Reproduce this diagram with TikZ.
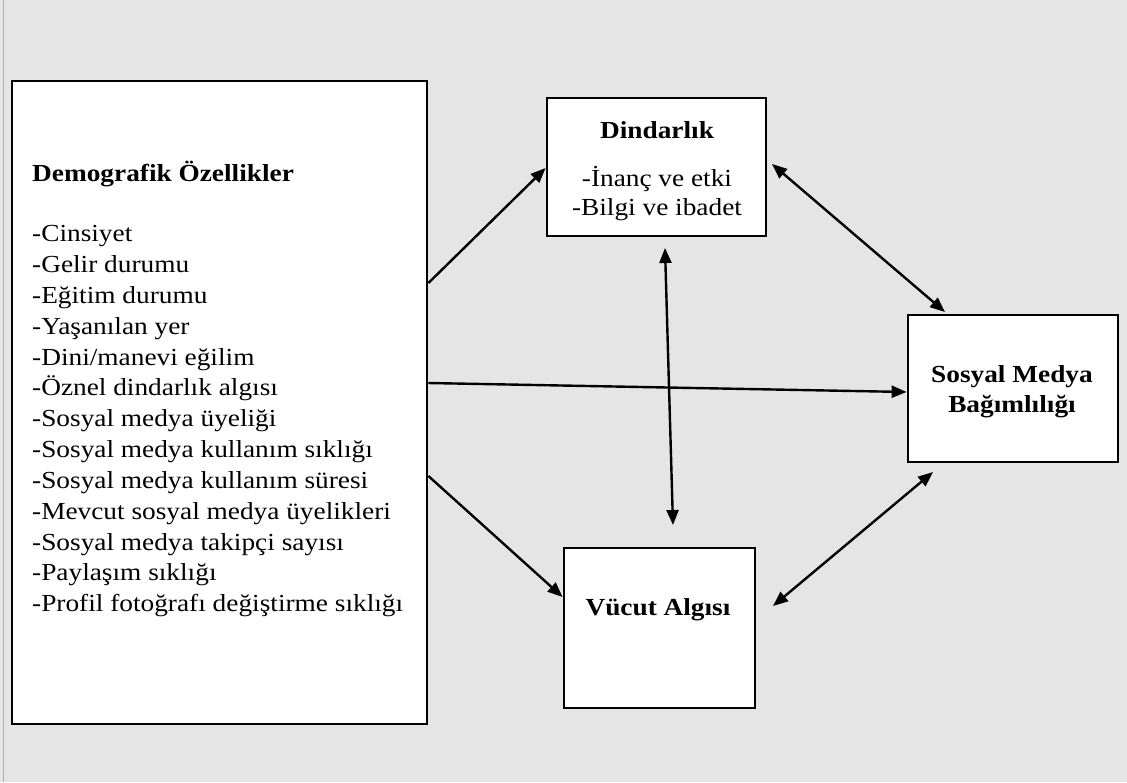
\documentclass[tikz,border=0pt]{standalone}
\usepackage{fontspec}
\setmainfont[FakeStretch=1.115]{Liberation Serif}
\usetikzlibrary{arrows.meta,calc}
\definecolor{bg}{HTML}{E5E5E5}
\definecolor{edge}{HTML}{AFAFAF}
\tikzset{
  box/.style={draw=black, line width=2.8pt, fill=white, inner sep=0pt},
  arr/.style={line width=2.4pt, -{Triangle[length=15pt,width=12pt]}},
  darr/.style={line width=2.4pt, {Triangle[length=15pt,width=12pt]}-{Triangle[length=15pt,width=12pt]}},
  txt/.style={font=\fontsize{24.5}{28}\selectfont, inner sep=0pt},
  ttl/.style={font=\fontsize{24.5}{28}\selectfont\bfseries, inner sep=0pt},
}
\begin{document}
\begin{tikzpicture}[x=1pt,y=-1pt]
\useasboundingbox (0,0) rectangle (1127,782);
\fill[bg] (0,0) rectangle (1127,782);
\draw[edge, line width=1.5pt] (3.5,0) -- (3.5,782);

% boxes
\node[box, minimum width=415pt, minimum height=643pt] (demo) at (219.5,402.5) {};
\node[box, minimum width=219pt, minimum height=138pt] (din) at (656.5,167) {};
\node[box, minimum width=210pt, minimum height=147pt] (smb) at (1013,388.5) {};
\node[box, minimum width=191pt, minimum height=160pt] (vuc) at (659.5,628) {};

% left box text
\node[ttl, anchor=base west] (dtitle) at (32,181) {Demografik Özellikler};
\foreach \t [count=\i from 0] in {-Cinsiyet,-Gelir durumu,-Eğitim durumu,-Yaşanılan yer,-Dini/manevi eğilim,-Öznel dindarlık algısı,-Sosyal medya üyeliği,-Sosyal medya kullanım sıklığı,-Sosyal medya kullanım süresi,-Mevcut sosyal medya üyelikleri,-Sosyal medya takipçi sayısı,-Paylaşım sıklığı,-Profil fotoğrafı değiştirme sıklığı}{
  \node[txt, anchor=base west] (item\i) at (32,{241.7+30.83*\i}) {\t};
}

% Dindarlık text
\node[ttl, anchor=base] (dintitle) at (657,138) {Dindarlık};
\node[txt, anchor=base] (din1) at (657,186) {-İnanç ve etki};
\node[txt, anchor=base] (din2) at (657,215) {-Bilgi ve ibadet};

% Sosyal medya text
\node[ttl, anchor=base] (smb1) at (1012,382) {Sosyal Medya};
\node[ttl, anchor=base] (smb2) at (1012,412) {Bağımlılığı};

% Vücut text
\node[ttl, anchor=base] (vuct) at (658,615) {Vücut Algısı};

% connector end points
\coordinate (dinTop) at (665,248);
\coordinate (vucTop) at (673,525);
\coordinate (dinR) at (772,164);
\coordinate (smbT) at (945,312);
\coordinate (vucR) at (773,606);
\coordinate (smbB) at (933,472);

% connectors
\draw[arr] (demo.east |- 0,283) -- (din.west |- 0,168);
\draw[arr] (demo.east |- 0,383) -- (smb.west |- 0,392);
\draw[arr] (demo.east |- 0,476) -- (vuc.west |- 0,597);
\draw[darr] (dinTop) -- (vucTop);
\draw[darr] (dinR) -- (smbT);
\draw[darr] (vucR) -- (smbB);
\end{tikzpicture}
\end{document}
